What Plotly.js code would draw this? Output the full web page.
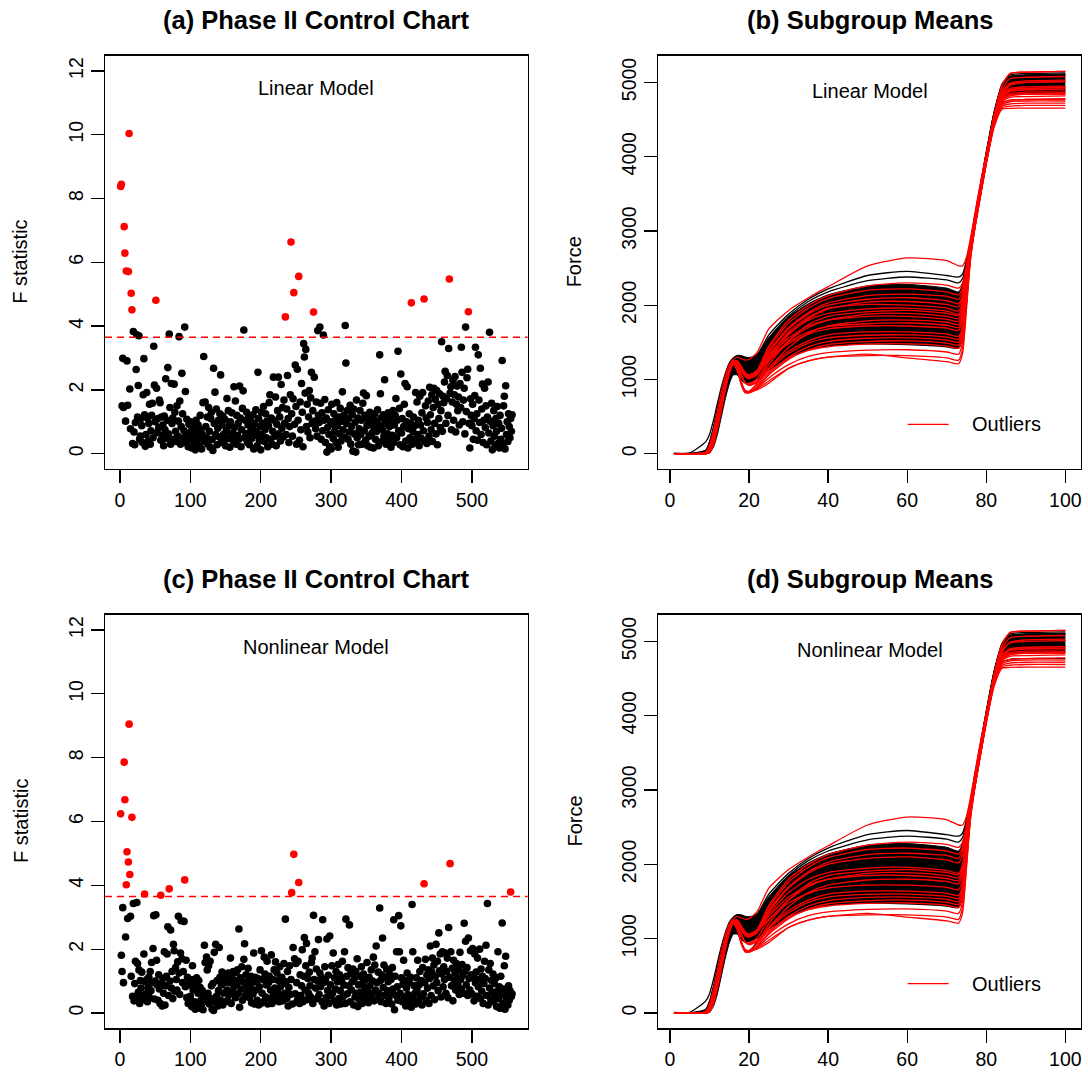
<!DOCTYPE html>
<html><head><meta charset="utf-8">
<script src="https://cdn.plot.ly/plotly-3.0.1.min.js"></script>
<style>html,body{margin:0;padding:0;background:#fff;}#chart{width:1088px;height:1079px;}</style>
</head><body><div id="chart"></div>
<script>
// ---------- DATA ----------
// F statistics per subgroup, linear model (panel a)
const fLinear = [
8.38,8.45,1.5,2.99,1.45,7.12,6.29,1.02,5.73,2.91,1.52,5.71,10.04,2.03,0.78,5.03,4.51,0.32,3.83,0.68,
0.28,0.98,2.64,3.73,1.15,2.14,3.7,0.45,0.55,1.1,0.88,0.35,1.85,2.98,1.22,0.23,0.6,1.92,1.12,0.4,
0.95,1.55,0.3,0.72,1.2,1.58,0.5,3.37,2.15,1.0,4.81,2.05,0.66,1.1,0.82,1.68,1.6,0.42,1.15,0.58,
0.9,0.25,1.18,0.75,2.35,0.48,1.05,2.7,0.62,3.75,1.45,0.3,2.2,0.95,1.12,0.45,2.18,1.3,0.7,0.38,
1.5,0.55,1.02,3.67,1.65,0.3,0.85,2.52,1.25,0.5,0.72,3.97,1.95,0.35,1.08,0.6,0.22,0.92,0.45,1.0,
0.7,0.18,0.95,0.4,0.82,0.55,0.12,1.05,0.3,0.65,0.9,0.25,0.48,1.2,0.75,0.15,0.6,1.6,3.05,0.38,
1.62,0.85,0.5,1.15,0.3,1.45,0.7,0.2,1.1,1.3,0.45,0.1,2.68,0.95,1.93,0.6,1.4,0.28,0.8,1.05,
0.52,1.25,2.47,0.35,0.9,1.18,0.6,0.42,1.08,0.25,0.72,1.73,0.48,1.35,0.88,0.2,1.0,0.55,1.28,0.65,
0.38,2.1,0.82,1.65,0.3,1.2,0.58,0.95,0.45,2.12,1.12,0.22,0.75,1.42,1.97,3.88,0.5,1.05,0.62,1.3,
0.35,0.9,1.15,0.28,0.68,1.02,0.48,0.8,1.22,0.15,0.95,0.58,1.38,0.7,0.25,2.55,1.1,0.42,0.85,0.12,
1.3,0.6,0.95,1.48,0.38,0.75,1.25,0.5,1.02,0.22,0.88,1.6,1.85,0.45,1.12,0.3,0.7,2.4,1.05,0.55,
1.78,0.25,0.92,1.35,2.4,0.62,1.15,0.4,2.17,0.8,1.45,0.52,1.68,0.95,4.29,0.6,1.4,2.45,1.1,0.35,
0.85,1.85,6.64,1.25,0.55,1.72,5.05,0.92,2.78,1.48,0.3,2.65,1.05,5.56,0.42,1.62,0.75,2.2,1.3,0.22,
3.45,3.03,1.9,3.27,0.85,1.55,0.68,1.15,1.98,0.5,1.75,2.55,0.95,1.35,4.44,2.4,1.02,0.78,1.62,0.55,
3.86,1.2,0.98,3.97,1.58,0.45,1.28,0.72,3.72,1.05,1.7,0.35,1.12,0.05,0.82,1.38,0.6,0.22,1.0,0.15,
1.55,0.92,0.48,1.25,0.7,1.05,0.35,1.6,0.88,0.2,1.15,0.62,1.42,0.4,1.02,1.94,0.75,1.2,0.52,4.02,
2.84,0.95,1.35,0.45,1.1,0.68,1.52,0.3,0.85,1.22,0.08,1.4,0.62,0.98,0.05,1.68,0.5,1.12,0.28,0.78,
1.35,0.6,1.05,0.3,1.58,1.9,0.72,1.2,0.42,1.82,0.88,0.25,1.08,0.55,1.3,0.2,0.95,0.65,1.15,0.18,
0.8,1.25,0.45,1.02,0.7,1.38,0.25,0.9,3.1,1.88,1.12,0.38,0.75,1.22,0.55,2.32,0.95,0.3,1.08,0.62,
1.28,0.42,0.85,1.15,0.2,1.0,0.58,1.35,0.35,0.9,1.2,1.73,0.5,1.05,3.21,0.72,1.42,0.28,2.5,0.65,
1.1,0.22,0.85,1.55,2.2,0.4,1.0,2.1,0.18,0.78,1.25,0.5,0.95,4.73,0.3,0.7,1.15,0.45,0.88,1.92,
0.35,1.62,0.6,1.05,0.25,1.8,0.9,0.48,1.28,1.92,0.72,4.85,0.4,1.5,1.12,0.32,0.98,1.65,0.55,2.08,
1.22,0.75,1.85,0.38,1.45,2.05,0.95,1.7,0.62,1.98,0.28,1.55,1.1,1.88,0.82,1.35,3.51,0.7,1.8,1.6,
2.25,2.58,0.95,1.72,2.45,1.2,3.3,5.48,1.9,2.1,0.75,1.62,2.3,1.05,1.85,2.42,0.68,1.55,2.12,1.35,
1.78,0.9,2.2,1.45,3.34,2.55,1.0,1.68,2.05,0.62,3.97,1.32,2.38,2.65,4.45,0.95,0.18,1.72,1.2,0.88,
1.55,0.45,1.1,1.82,3.34,0.72,1.25,0.42,3.1,1.68,0.98,2.68,0.6,1.4,2.18,0.35,1.05,2.05,0.82,1.5,
0.28,1.15,2.25,0.65,3.81,1.02,0.4,1.58,0.12,0.88,1.35,0.55,0.25,1.1,0.7,1.48,0.32,0.95,0.18,1.2,
0.45,0.8,2.92,0.3,1.5,1.8,0.15,2.13,0.6,1.0,0.38,1.25,0.85,0.5,1.1,0.7,1.22
];
// F statistics per subgroup, nonlinear model (panel c)
const fNonlinear = [
6.24,1.81,1.3,3.3,0.95,7.86,6.68,2.38,4.02,5.05,2.96,4.73,9.05,4.34,3.03,1.15,6.13,0.52,3.43,0.38,
0.92,1.62,0.45,3.46,1.55,0.65,1.35,0.3,1.02,0.78,1.28,0.55,0.42,1.85,3.73,0.98,0.6,1.05,0.35,0.8,
1.12,0.48,1.3,0.7,1.58,0.95,2.02,3.05,0.44,1.0,3.08,1.65,0.88,0.4,1.2,0.75,0.3,3.69,0.92,0.22,
1.08,0.62,1.92,0.25,0.85,1.15,1.85,2.7,0.55,3.89,1.0,2.6,0.78,1.3,0.45,2.15,1.95,0.68,1.42,1.05,
0.72,1.6,3.03,1.25,0.58,1.88,2.89,1.7,0.95,1.3,2.87,4.17,0.82,1.65,0.48,1.12,0.3,0.88,1.05,0.52,
0.95,0.2,1.48,0.72,1.05,0.35,0.12,0.88,1.1,0.25,0.62,1.02,0.15,0.8,0.4,0.28,0.7,0.1,0.55,2.12,
1.58,0.38,1.75,1.35,0.62,1.48,0.28,1.62,0.45,0.85,0.12,0.92,0.08,1.9,0.35,2.15,0.52,1.02,0.22,0.7,
2.05,1.12,0.4,0.88,1.28,0.25,0.62,0.95,1.18,0.35,1.05,0.72,0.4,1.25,0.58,0.95,1.72,0.3,1.15,0.68,
1.3,0.82,1.02,0.48,1.28,0.9,1.35,0.6,2.63,0.18,1.1,0.75,1.45,0.4,0.98,1.68,2.17,0.55,1.2,0.85,
0.65,1.4,1.02,0.48,0.78,1.15,0.32,0.95,0.6,1.88,0.28,1.12,0.72,0.98,0.4,1.08,0.25,0.82,1.35,0.3,
1.95,0.62,1.05,0.35,1.75,1.22,0.5,0.88,1.62,0.28,0.95,1.15,0.45,0.72,1.82,0.3,1.05,0.58,1.35,0.78,
1.6,0.42,1.25,0.65,1.02,0.35,1.45,0.82,0.55,1.12,0.38,0.92,1.55,0.62,2.94,0.98,0.45,1.3,0.22,0.8,
1.48,0.58,1.05,3.77,0.28,2.05,4.97,1.7,0.6,1.55,0.95,0.4,1.62,4.09,0.3,1.2,0.55,0.85,1.98,0.35,
1.15,2.36,0.72,1.48,2.18,0.42,1.08,0.62,1.28,0.85,0.5,1.58,1.72,0.3,3.06,1.05,1.92,0.78,1.38,0.45,
1.0,2.3,0.58,1.25,0.82,1.12,0.35,2.92,0.95,0.22,1.45,1.02,0.48,2.32,0.7,1.18,0.3,2.41,0.88,0.55,
1.48,0.62,1.88,0.38,1.1,0.75,1.3,0.25,0.98,1.52,0.45,1.2,0.7,0.28,1.05,1.62,0.52,0.88,1.92,0.3,
2.94,1.15,0.6,1.42,0.85,2.76,0.35,1.25,0.72,0.98,1.38,0.25,1.08,0.5,1.3,0.62,1.7,0.2,0.88,0.42,
1.15,0.65,1.45,0.3,0.95,1.22,0.55,0.78,1.05,0.4,1.58,0.68,0.32,1.12,0.85,0.48,1.35,0.6,1.0,1.75,
0.38,1.5,0.72,2.1,0.95,0.45,1.28,0.62,3.29,1.02,0.35,1.2,2.35,0.8,1.5,0.55,1.12,0.3,1.38,0.7,
0.98,0.45,1.22,0.6,1.05,0.28,1.42,0.75,2.92,0.1,1.15,0.55,1.92,0.82,0.4,3.05,1.92,0.62,2.73,1.1,
0.35,0.9,1.65,0.48,1.02,0.22,0.78,1.25,0.58,0.3,0.95,0.5,1.12,0.18,3.4,1.92,0.42,0.85,0.62,0.28,
1.1,0.72,1.65,0.38,0.88,1.3,0.52,1.02,0.25,1.42,0.6,4.05,0.95,1.68,0.4,1.18,0.78,1.35,0.3,1.08,
2.1,0.55,1.28,1.72,0.85,1.5,0.42,1.15,2.15,0.95,1.62,0.7,2.51,1.32,1.85,0.5,1.22,1.92,0.82,1.45,
1.05,1.88,0.62,1.3,1.72,0.48,2.68,1.12,4.68,1.92,0.85,1.4,0.38,1.65,1.02,1.25,0.72,1.55,1.1,0.9,
1.35,0.58,1.9,1.05,0.75,1.52,1.18,0.62,2.81,1.3,2.25,0.88,1.42,0.55,2.35,1.08,0.72,1.95,1.2,0.6,
2.02,1.12,0.38,1.85,0.95,1.28,0.52,1.72,0.82,1.05,2.0,0.45,1.38,0.68,1.15,0.3,0.92,1.62,1.08,2.12,
0.55,3.43,0.25,1.35,0.78,1.55,0.42,1.02,0.65,1.22,0.35,0.92,0.5,1.1,0.2,0.68,1.92,0.45,0.82,0.15,
1.15,0.58,2.82,0.3,0.75,1.48,0.12,1.78,0.48,0.62,0.25,0.85,0.4,0.7,3.79,0.52,0.6
];
// subgroup numbers flagged as outliers (red)
const outLinear = [1,2,6,7,9,12,13,16,17,51,235,243,247,254,275,414,432,468,495];
const outNonlinear = [1,6,7,9,10,12,13,14,17,35,58,70,92,244,247,254,432,469,555];
const ucl = 3.65;

// subgroup mean force profiles, sampled at these positions
const curveX = [1,5,9,10,11,12,13,14,15,16,17,18,19,20,22,25,30,35,40,50,60,70,73,74,75,76,77,78,80,82,84,86,90,100];
const curves = [
/*0*/ [0,0,20,120,320,580,840,1050,1200,1270,1300,1280,1260,1270,1360,1680,1930,2100,2250,2530,2637,2600,2530,2530,2650,2900,3200,3500,4050,4550,4880,4980,5000,5010],
/*1*/ [0,0,40,160,360,610,860,1060,1210,1280,1320,1310,1290,1280,1330,1600,1880,2080,2220,2400,2456,2400,2380,2420,2600,2850,3150,3450,4050,4600,4980,5100,5120,5130],
/*2*/ [0,0,10,80,250,480,730,960,1140,1240,1250,1170,1090,1060,1120,1450,1800,2000,2130,2260,2300,2270,2230,2300,2550,2850,3150,3450,4000,4500,4820,4900,4920,4930],
/*3*/ [0,0,30,140,330,580,830,1040,1200,1270,1300,1300,1280,1270,1320,1560,1850,2050,2180,2330,2380,2340,2300,2360,2580,2830,3120,3420,4020,4560,4950,5080,5100,5110],
/*4*/ [0,0,0,40,200,430,690,930,1120,1230,1220,1120,1040,1020,1080,1380,1700,1900,2030,2130,2150,2120,2080,2200,2500,2820,3120,3420,3980,4480,4780,4850,4870,4870],
/*5*/ [0,0,0,20,150,380,640,900,1100,1230,1150,960,850,840,950,1250,1600,1820,1950,2040,2050,2010,1980,2100,2450,2800,3100,3400,3950,4450,4720,4760,4770,4770],
/*6*/ [0,0,10,70,230,460,710,950,1130,1240,1240,1150,1070,1040,1090,1330,1620,1800,1890,1950,1960,1920,1880,2000,2400,2780,3100,3400,3980,4500,4900,5050,5070,5080],
/*7*/ [0,0,0,30,180,420,680,920,1110,1220,1200,1060,960,940,1010,1250,1520,1700,1800,1880,1890,1850,1820,1950,2350,2760,3080,3380,3950,4470,4800,4880,4900,4900],
/*8*/ [0,0,0,20,150,380,640,900,1100,1230,1150,960,830,820,900,1150,1430,1620,1720,1790,1800,1770,1740,1880,2300,2740,3060,3370,3940,4460,4760,4830,4840,4850],
/*9*/ [0,0,10,80,250,480,730,960,1140,1240,1250,1170,1090,1060,1100,1260,1480,1610,1680,1720,1720,1690,1660,1800,2250,2720,3050,3360,3950,4500,4850,4990,5020,5030],
/*10*/[0,0,0,30,180,420,680,920,1110,1220,1200,1060,960,930,980,1150,1380,1520,1600,1640,1640,1610,1580,1720,2200,2700,3040,3350,3930,4450,4700,4740,4750,4750],
/*11*/[0,0,0,20,150,380,640,900,1100,1230,1150,960,840,830,900,1080,1300,1440,1510,1555,1560,1530,1500,1650,2150,2680,3030,3340,3930,4470,4800,4900,4920,4930],
/*12*/[0,0,0,30,180,420,680,920,1110,1220,1200,1060,950,920,960,1100,1280,1390,1440,1475,1480,1450,1420,1580,2100,2660,3020,3330,3920,4430,4680,4710,4720,4720],
/*13*/[0,0,0,20,150,380,640,900,1100,1230,1150,960,850,830,880,1020,1200,1310,1360,1395,1400,1370,1340,1500,2050,2640,3010,3320,3920,4440,4750,4820,4840,4840],
/*14*/[0,0,0,20,140,370,630,890,1090,1220,1140,950,830,820,870,980,1150,1250,1300,1320,1320,1290,1260,1420,2000,2620,3000,3310,3910,4420,4660,4680,4690,4690],
/*15*/[0,0,0,10,120,330,580,850,1080,1200,1120,930,820,830,858,950,1150,1250,1300,1340,1290,1240,1210,1350,1950,2600,2990,3300,3900,4400,4640,4650,4655,4655],
/*16*/[0,0,10,80,250,480,730,960,1140,1240,1250,1170,1090,1050,1080,1180,1330,1420,1460,1480,1470,1440,1420,1560,2080,2650,3010,3320,3920,4440,4780,4880,4890,4900],
/*17*/[0,0,10,60,220,450,700,940,1130,1240,1230,1130,1040,1010,1060,1300,1640,1840,1960,2010,2000,1960,1920,2050,2420,2790,3100,3400,3970,4490,4820,4920,4940,4950],
/*18*/[0,10,160,260,450,680,900,1080,1220,1290,1320,1320,1300,1290,1320,1520,1820,2000,2120,2220,2240,2190,2150,2260,2560,2860,3170,3470,4060,4600,4950,5060,5080,5090],
/*19*/[0,0,10,70,230,460,710,950,1130,1240,1240,1150,1060,1030,1080,1300,1560,1720,1800,1850,1850,1810,1780,1920,2330,2750,3080,3390,3980,4560,4960,5120,5140,5150],
/*20*/[0,0,10,80,250,480,730,960,1140,1240,1250,1170,1090,1060,1110,1420,1760,1960,2090,2200,2220,2180,2140,2240,2520,2830,3130,3430,3990,4490,4800,4880,4900,4910],
/*21*/[0,0,0,20,150,380,640,900,1100,1230,1150,960,850,840,930,1200,1520,1740,1850,1910,1930,1890,1860,1980,2380,2770,3090,3390,3960,4480,4770,4830,4850,4860],
/*22*/[0,0,10,80,250,480,730,960,1140,1240,1250,1170,1090,1060,1100,1280,1500,1640,1710,1750,1760,1730,1700,1840,2270,2730,3050,3360,3950,4490,4830,4960,5000,5010],
/*23*/[0,0,0,30,180,420,680,920,1110,1220,1200,1060,960,930,970,1130,1350,1490,1560,1595,1600,1570,1540,1690,2180,2690,3030,3340,3930,4460,4740,4800,4810,4820],
/*24*/[0,0,0,20,150,380,640,900,1100,1230,1150,960,840,830,890,1060,1270,1400,1470,1510,1520,1490,1460,1620,2130,2670,3020,3330,3920,4450,4720,4760,4770,4780],
/*25*/[0,0,10,70,230,460,710,950,1130,1240,1240,1150,1070,1040,1090,1360,1680,1880,2000,2080,2100,2060,2020,2130,2470,2810,3110,3410,3980,4560,4960,5120,5140,5150]
];
// dense black bundle of in-control profiles (lower / upper edge)
const bundleLow  = [0,0,0,10,90,260,500,740,940,1060,1060,990,950,960,1000,1120,1300,1400,1450,1490,1480,1450,1430,1560,2080,2650,3010,3330,3930,4450,4750,4830,4850,4860];
const bundleHigh = [10,5,50,160,350,600,850,1050,1200,1275,1310,1310,1300,1295,1330,1560,1840,2020,2140,2260,2280,2230,2180,2280,2560,2860,3170,3470,4060,4600,4960,5080,5100,5110];
// profiles drawn red (outliers) in each panel
const redLinear = [0,2,4,5,6,7,8,9,10,11,12,13,14,15,17,19,20,21,22,23,24,25];
const redNonlinear = [0,2,4,6,7,8,9,10,11,12,13,14,15,19,20,21,23,24,25];

const titles = ['(a) Phase II Control Chart','(b) Subgroup Means','(c) Phase II Control Chart','(d) Subgroup Means'];
const modelLabels = ['Linear Model','Linear Model','Nonlinear Model','Nonlinear Model'];
const xTicksF = [0,100,200,300,400,500];
const yTicksF = [0,2,4,6,8,10,12];
const xTicksForce = [0,20,40,60,80,100];
const yTicksForce = [0,1000,2000,3000,4000,5000];

// ---------- BUILD ----------
const FONT = 'Liberation Sans, Arial, Helvetica, sans-serif';
const W = 1088, H = 1079;
const BLACK = '#000000', RED = '#FF0000';
const boxes = [
  {l:105, r:527.7, t:55.7, b:469},
  {l:658.3, r:1081, t:55.7, b:469},
  {l:105, r:527.7, t:614.7, b:1028.3},
  {l:658.3, r:1081, t:614.7, b:1028.3}
];
const dx = b => [b.l/W, b.r/W];
const dy = b => [1-b.b/H, 1-b.t/H];

const traces = [];
function scatterPanel(vals, outs, xa, ya){
  const outSet = new Set(outs);
  const bx=[], by=[], rx=[], ry=[];
  vals.forEach((v,i)=>{ const n=i+1; if(outSet.has(n)){rx.push(n);ry.push(v);} else {bx.push(n);by.push(v);} });
  traces.push({type:'scatter',mode:'markers',x:bx,y:by,xaxis:xa,yaxis:ya,marker:{color:BLACK,size:7.6,line:{width:0}},hoverinfo:'skip',showlegend:false});
  traces.push({type:'scatter',mode:'markers',x:rx,y:ry,xaxis:xa,yaxis:ya,marker:{color:RED,size:7.6,line:{width:0}},hoverinfo:'skip',showlegend:false});
}
function curvePanel(reds, xa, ya){
  const redSet = new Set(reds);
  const sp = {shape:'spline', smoothing:0.6};
  traces.push({type:'scatter',mode:'lines',x:curveX,y:bundleLow,xaxis:xa,yaxis:ya,line:Object.assign({color:BLACK,width:1},sp),hoverinfo:'skip',showlegend:false});
  traces.push({type:'scatter',mode:'lines',x:curveX,y:bundleHigh,xaxis:xa,yaxis:ya,fill:'tonexty',fillcolor:BLACK,line:Object.assign({color:BLACK,width:1},sp),hoverinfo:'skip',showlegend:false});
  curves.forEach((c,i)=>{ if(!redSet.has(i)) traces.push({type:'scatter',mode:'lines',x:curveX,y:c,xaxis:xa,yaxis:ya,line:Object.assign({color:BLACK,width:1.3},sp),hoverinfo:'skip',showlegend:false}); });
  curves.forEach((c,i)=>{ if(redSet.has(i)) traces.push({type:'scatter',mode:'lines',x:curveX,y:c,xaxis:xa,yaxis:ya,line:Object.assign({color:RED,width:1.3},sp),hoverinfo:'skip',showlegend:false}); });
}
scatterPanel(fLinear, outLinear, 'x', 'y');
curvePanel(redLinear, 'x2', 'y2');
scatterPanel(fNonlinear, outNonlinear, 'x3', 'y3');
curvePanel(redNonlinear, 'x4', 'y4');

function ax(domain, range, ticks, anchor, isY){
  const a = {domain, range, anchor, tickmode:'array', tickvals:ticks, ticktext:ticks.map(String),
    ticks:'outside', ticklen:13, tickwidth:1.3, tickcolor:BLACK, showline:true, mirror:true,
    linecolor:BLACK, linewidth:1.3, showgrid:false, zeroline:false, fixedrange:true,
    tickfont:{family:FONT,size:19.5,color:BLACK}};
  if(isY){ a.tickangle = -90; }
  return a;
}
const nF = fLinear.length;
const xRangeF = [1-0.04*(nF-1), nF+0.04*(nF-1)];
const layout = {
  width:W, height:H, margin:{l:0,r:0,t:0,b:0}, paper_bgcolor:'#fff', plot_bgcolor:'#fff', showlegend:false,
  font:{family:FONT,color:BLACK},
  xaxis: ax(dx(boxes[0]), xRangeF, xTicksF, 'y', false),
  yaxis: ax(dy(boxes[0]), [-0.48,12.48], yTicksF, 'x', true),
  xaxis2: ax(dx(boxes[1]), [-2.96,103.96], xTicksForce, 'y2', false),
  yaxis2: ax(dy(boxes[1]), [-206,5360], yTicksForce, 'x2', true),
  xaxis3: ax(dx(boxes[2]), xRangeF, xTicksF, 'y3', false),
  yaxis3: ax(dy(boxes[2]), [-0.48,12.48], yTicksF, 'x3', true),
  xaxis4: ax(dx(boxes[3]), [-2.96,103.96], xTicksForce, 'y4', false),
  yaxis4: ax(dy(boxes[3]), [-206,5360], yTicksForce, 'x4', true),
  shapes: [], annotations: []
};
// UCL dashed lines
[['x','y'],['x3','y3']].forEach(([xa,ya])=>{
  layout.shapes.push({type:'line', xref:xa+' domain', yref:ya, x0:0, x1:1, y0:ucl, y1:ucl, line:{color:RED,width:1.4,dash:'7px,5px'}});
});
// legend for curve panels
[['x2','y2'],['x4','y4']].forEach(([xa,ya])=>{
  layout.shapes.push({type:'line', xref:xa+' domain', yref:ya+' domain', x0:0.590, x1:0.687, y0:0.108, y1:0.108, line:{color:RED,width:1.3}});
  layout.annotations.push({xref:xa+' domain', yref:ya+' domain', x:0.737, y:0.108, xanchor:'left', yanchor:'middle', text:'Outliers', showarrow:false, font:{family:FONT,size:20,color:BLACK}});
});
const axPairs = [['x','y'],['x2','y2'],['x3','y3'],['x4','y4']];
boxes.forEach((b,i)=>{
  layout.annotations.push({xref:'paper', yref:'paper', x:(b.l+b.r)/2/W, y:1-(b.t-35.5)/H, xanchor:'center', yanchor:'middle', text:'<b>'+titles[i]+'</b>', showarrow:false, font:{family:FONT,size:25.5,color:BLACK}});
  const [xa,ya] = axPairs[i];
  layout.annotations.push({xref:xa+' domain', yref:ya+' domain', x:0.5, y:(i%2===0)?0.9226:0.9156, xanchor:'center', yanchor:'middle', text:modelLabels[i], showarrow:false, font:{family:FONT,size:20,color:BLACK}});
  const ylab = (i%2===0)?'F statistic':'Force';
  const xc = (i%2===0)? 20.5 : 574;
  layout.annotations.push({xref:'paper', yref:'paper', x:xc/W, y:1-((b.t+b.b)/2)/H, xanchor:'center', yanchor:'middle', textangle:-90, text:ylab, showarrow:false, font:{family:FONT,size:20,color:BLACK}});
});
Plotly.newPlot('chart', traces, layout, {staticPlot:true, displayModeBar:false});
</script>
</body></html>
